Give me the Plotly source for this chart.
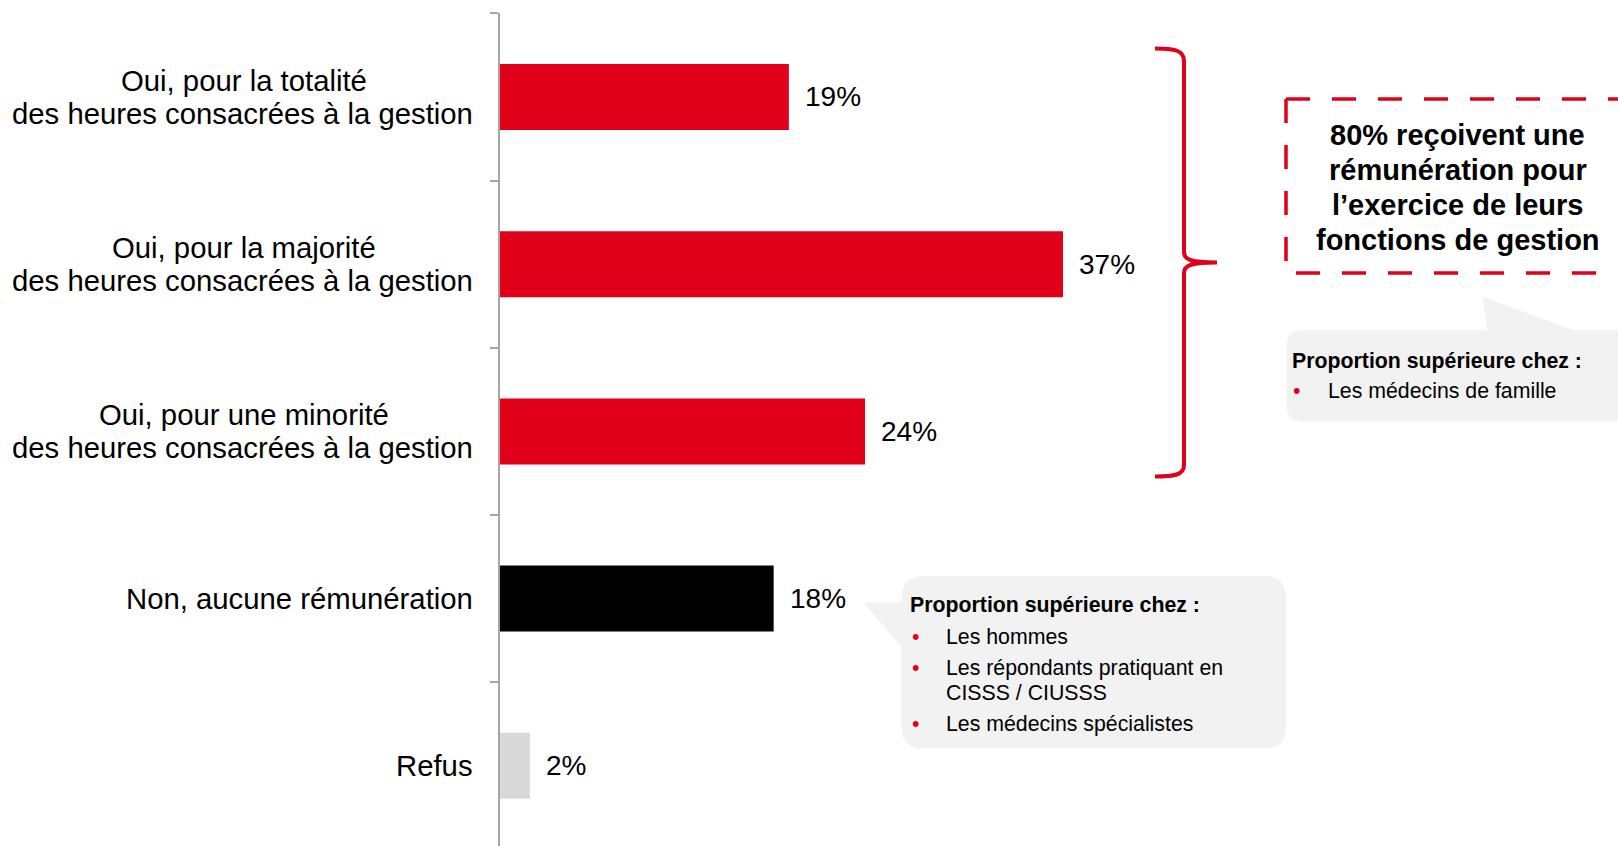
import plotly.graph_objects as go

# --- data -------------------------------------------------------------------
categories = [
    "Oui, pour la totalité<br>des heures consacrées à la gestion",
    "Oui, pour la majorité<br>des heures consacrées à la gestion",
    "Oui, pour une minorité<br>des heures consacrées à la gestion",
    "Non, aucune rémunération",
    "Refus",
]
values = [19, 37, 24, 18, 2]
bar_colors = ["#E10019", "#E10019", "#E10019", "#000000", "#D9D9D9"]

paid_share = sum(values[:3])
summary_lines = [
    f"{paid_share}% reçoivent une",
    "rémunération pour",
    "l’exercice de leurs",
    "fonctions de gestion",
]
callout_title = "Proportion supérieure chez :"
paid_items = ["Les médecins de famille"]
unpaid_items = [
    ["Les hommes"],
    ["Les répondants pratiquant en", "CISSS / CIUSSS"],
    ["Les médecins spécialistes"],
]

# --- page geometry (pixels) ---------------------------------------------------
W, H = 1618, 846
FONT = "Liberation Sans, Arial, sans-serif"
RED = "#E10019"
GREY_FILL = "#F2F2F2"


def fx(x):
    return x / W


def fy(y):
    return 1 - y / H


def pt(x, y):
    return f"{fx(x):.5f},{fy(y):.5f}"


def svg_path(cmds):
    out = []
    for c in cmds:
        op, pts = c[0], c[1:]
        out.append(op + " " + " ".join(pt(*p) for p in pts) if pts else op)
    return " ".join(out)


fig = go.Figure(
    go.Bar(
        x=values,
        y=categories,
        orientation="h",
        marker=dict(color=bar_colors, line=dict(width=0)),
        hoverinfo="skip",
    )
)

annotations = []

# value labels to the right of each bar
for cat, v in zip(categories, values):
    annotations.append(dict(
        x=v, y=cat, xref="x", yref="y", text=f"{v}%", showarrow=False,
        xanchor="left", yanchor="middle", xshift=14,
        font=dict(family=FONT, size=28, color="#000000"),
    ))

# category labels: right edge next to the axis, two-line labels centred on each other
LABEL_RIGHT = 474.5
LABEL_CENTRE = 243.5
LABEL_LINE_GAP = 33
cat_font = dict(family=FONT, size=29.3, color="#000000")
for cat in categories:
    lines = cat.split("<br>")
    if len(lines) == 1:
        annotations.append(dict(
            x=fx(LABEL_RIGHT), y=cat, xref="paper", yref="y", text=lines[0],
            showarrow=False, xanchor="right", yanchor="middle", font=cat_font,
        ))
    else:
        annotations.append(dict(
            x=fx(LABEL_CENTRE), y=cat, xref="paper", yref="y", text=lines[0],
            showarrow=False, xanchor="center", yanchor="middle",
            yshift=LABEL_LINE_GAP / 2, font=cat_font,
        ))
        annotations.append(dict(
            x=fx(LABEL_RIGHT), y=cat, xref="paper", yref="y", text=lines[1],
            showarrow=False, xanchor="right", yanchor="middle",
            yshift=-LABEL_LINE_GAP / 2, font=cat_font,
        ))

# summary text inside the dashed frame
for i, line in enumerate(summary_lines):
    annotations.append(dict(
        x=fx(1457.5), y=fy(135 + 35 * i), xref="paper", yref="paper",
        text=f"<b>{line}</b>", showarrow=False, xanchor="center", yanchor="middle",
        font=dict(family=FONT, size=29, color="#000000"),
    ))

CALLOUT_SIZE = 21.3


def callout_text(x_title, y_title, x_bullet, x_item, rows):
    annotations.append(dict(
        x=fx(x_title), y=fy(y_title), xref="paper", yref="paper",
        text=f"<b>{callout_title}</b>", showarrow=False, xanchor="left", yanchor="middle",
        font=dict(family=FONT, size=CALLOUT_SIZE, color="#000000"),
    ))
    for text, y, bullet in rows:
        if bullet:
            annotations.append(dict(
                x=fx(x_bullet), y=fy(y), xref="paper", yref="paper", text="•",
                showarrow=False, xanchor="left", yanchor="middle",
                font=dict(family=FONT, size=CALLOUT_SIZE, color=RED),
            ))
        annotations.append(dict(
            x=fx(x_item), y=fy(y), xref="paper", yref="paper", text=text,
            showarrow=False, xanchor="left", yanchor="middle",
            font=dict(family=FONT, size=CALLOUT_SIZE, color="#000000"),
        ))


callout_text(1290, 361.5, 1291, 1326, [(paid_items[0], 391, True)])

unpaid_rows = []
y = 636.5
for item in unpaid_items:
    for j, line in enumerate(item):
        unpaid_rows.append((line, y, j == 0))
        y += 25.5 if j < len(item) - 1 else 0
    y += 31
callout_text(908, 605, 910, 944, unpaid_rows)

shapes = []

# curly brace grouping the three "Oui" answers
brace = svg_path([
    ("M", (1155, 48.5)),
    ("C", (1174, 48.5), (1184, 50), (1184, 61)),
    ("L", (1184, 252)),
    ("C", (1184, 260), (1192, 262.5), (1217, 262.5)),
    ("C", (1192, 262.5), (1184, 265), (1184, 273)),
    ("L", (1184, 465)),
    ("C", (1184, 475), (1174, 476.5), (1155, 476.5)),
])
shapes.append(dict(type="path", path=brace, xref="paper", yref="paper",
                   line=dict(color=RED, width=4), fillcolor="rgba(0,0,0,0)"))

# dashed frame around the summary (drawn from the top-left corner in two strokes)
dash_style = dict(color=RED, width=3.5, dash="24px,22px")
frame_top = svg_path([("M", (1286, 99)), ("L", (1640, 99))])
frame_rest = svg_path([("M", (1286, 99)), ("L", (1286, 273)), ("L", (1640, 273))])
for p in (frame_top, frame_rest):
    shapes.append(dict(type="path", path=p, xref="paper", yref="paper",
                       line=dash_style, fillcolor="rgba(0,0,0,0)"))

# speech bubble (upper right), pointer towards the frame
r1 = 16
x0, x1, y0, y1 = 1286.5, 1645, 330, 421.5
bubble1 = svg_path([
    ("M", (x0 + r1, y0)), ("L", (1487, y0)), ("L", (1483, 297)), ("L", (1573, y0)),
    ("L", (x1, y0)), ("L", (x1, y1)), ("L", (x0 + r1, y1)),
    ("Q", (x0, y1), (x0, y1 - r1)), ("L", (x0, y0 + r1)),
    ("Q", (x0, y0), (x0 + r1, y0)), ("Z",),
])
shapes.append(dict(type="path", path=bubble1, xref="paper", yref="paper",
                   line=dict(width=0), fillcolor=GREY_FILL, layer="below"))

# speech bubble (lower), pointer towards the "Non" bar
r2 = 22
x0, x1, y0, y1 = 901.5, 1286, 576, 748.5
bubble2 = svg_path([
    ("M", (x0 + r2, y0)), ("L", (x1 - r2, y0)), ("Q", (x1, y0), (x1, y0 + r2)),
    ("L", (x1, y1 - r2)), ("Q", (x1, y1), (x1 - r2, y1)),
    ("L", (x0 + r2, y1)), ("Q", (x0, y1), (x0, y1 - r2)),
    ("L", (x0, 647)), ("L", (863.5, 602.5)), ("L", (x0, 602.5)),
    ("L", (x0, y0 + r2)), ("Q", (x0, y0), (x0 + r2, y0)), ("Z",),
])
shapes.append(dict(type="path", path=bubble2, xref="paper", yref="paper",
                   line=dict(width=0), fillcolor=GREY_FILL, layer="below"))

fig.update_layout(
    width=W, height=H, autosize=False,
    margin=dict(l=0, r=0, t=0, b=0),
    paper_bgcolor="white", plot_bgcolor="white",
    showlegend=False,
    bargap=0.605,
    xaxis=dict(range=[0, 70], domain=[499.5 / W, 1565.6 / W], visible=False, fixedrange=True),
    yaxis=dict(
        type="category", categoryorder="array", categoryarray=categories,
        range=[4.4797, -0.5], domain=[0, 1 - 13.4 / H],
        showline=True, linecolor="#A6A6A6", linewidth=2,
        ticks="outside", tickson="boundaries", ticklen=8, tickwidth=2, tickcolor="#A6A6A6",
        showticklabels=False, showgrid=False, zeroline=False, fixedrange=True,
    ),
    shapes=shapes,
    annotations=annotations,
)

fig.write_html("out.html")
